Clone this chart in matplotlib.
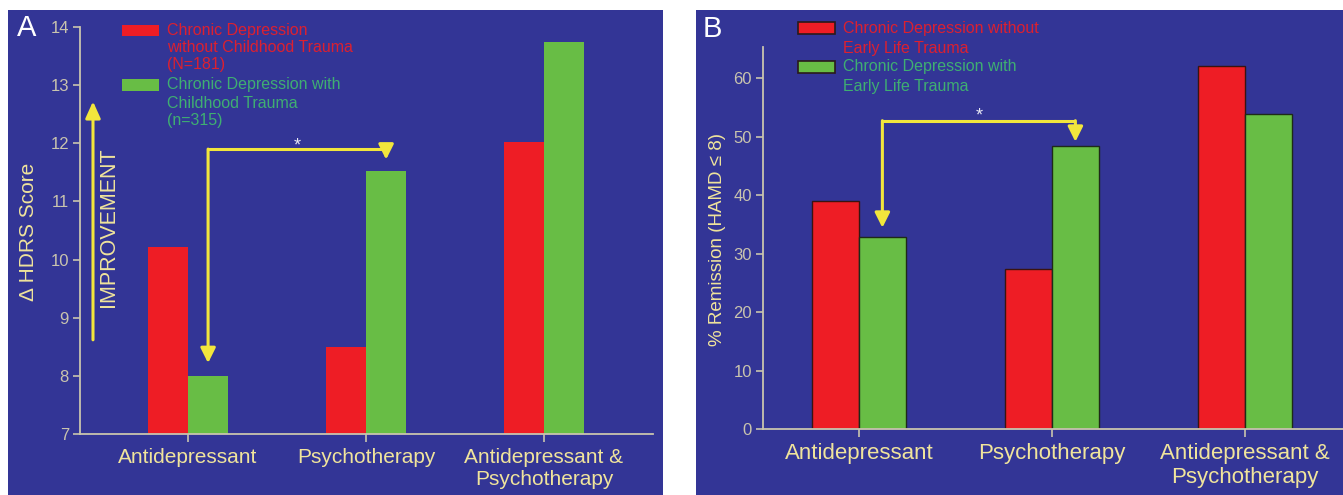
import matplotlib
matplotlib.use("Agg")
import matplotlib.pyplot as plt
from matplotlib.patches import Rectangle

plt.rcParams['font.family'] = ['Liberation Sans', 'DejaVu Sans']

# data
categories = ["Antidepressant", "Psychotherapy", "Antidepressant &\nPsychotherapy"]
hdrs_no_trauma = [10.22, 8.5, 12.03]
hdrs_trauma = [8.0, 11.52, 13.74]
remission_no_trauma = [39.0, 27.4, 62.0]
remission_trauma = [32.9, 48.3, 53.9]
hdrs_ticks = [7, 8, 9, 10, 11, 12, 13, 14]
remission_ticks = [0, 10, 20, 30, 40, 50, 60]

legend_a = [["Chronic Depression", "without Childhood Trauma", "(N=181)"],
            ["Chronic Depression with", "Childhood Trauma", "(n=315)"]]
legend_b = [["Chronic Depression without", "Early Life Trauma"],
            ["Chronic Depression with", "Early Life Trauma"]]

BG = '#333596'
RED = '#ee1d25'
GREEN = '#68bd45'
AXIS = '#c9c4ae'
CAT = '#f0e49c'
YEL = '#f2e63c'
RED_TXT = '#dc2030'
GREEN_TXT = '#3fae72'

W, H = 1343, 495
fig = plt.figure(figsize=(W / 100, H / 100), dpi=100)
fig.patch.set_facecolor('white')


def fx(px):
    return px / W


def fy(py):
    return 1 - py / H


# blue panels
fig.patches.append(Rectangle((fx(8), 0), fx(655), fy(10), transform=fig.transFigure,
                             facecolor=BG, edgecolor='none', zorder=-10))
fig.patches.append(Rectangle((fx(696), 0), fx(647), fy(10), transform=fig.transFigure,
                             facecolor=BG, edgecolor='none', zorder=-10))


def style_axes(ax, cat_size):
    ax.set_facecolor('none')
    for s in ['top', 'right']:
        ax.spines[s].set_visible(False)
    for s in ['left', 'bottom']:
        ax.spines[s].set_color(AXIS)
        ax.spines[s].set_linewidth(1.3)
    ax.tick_params(axis='y', colors=AXIS, labelsize=12, length=5, width=1.2, pad=3)
    ax.tick_params(axis='x', colors=AXIS, length=6, width=1.2, pad=4)
    ax.set_xticks(range(len(categories)))
    ax.set_xticklabels(categories, fontsize=cat_size, color=CAT)


def bracket(ax, x0, x1, y_top, tip0, tip1, star_y):
    kw = dict(arrowstyle='-|>,head_length=0.9,head_width=0.45', color=YEL, lw=2.2,
              shrinkA=0, shrinkB=0)
    ax.plot([x0, x1], [y_top, y_top], color=YEL, lw=2.2, solid_capstyle='butt', clip_on=False)
    ax.annotate('', xy=(x0, tip0), xytext=(x0, y_top), arrowprops=kw, annotation_clip=False)
    ax.annotate('', xy=(x1, tip1), xytext=(x1, y_top), arrowprops=kw, annotation_clip=False)
    ax.text((x0 + x1) / 2, star_y, '*', color='#e8e8f4', fontsize=13,
            ha='center', va='center')


def legend(entries, colors, txt_colors, patch_x, text_x, rows, edge):
    for lines, c, tc, (py0, py1, line_ys) in zip(entries, colors, txt_colors, rows):
        fig.patches.append(Rectangle((fx(patch_x[0]), fy(py1)), fx(patch_x[1] - patch_x[0]),
                                     (py1 - py0) / H, transform=fig.transFigure,
                                     facecolor=c, edgecolor=edge, lw=1.2))
        for line, ly in zip(lines, line_ys):
            fig.text(fx(text_x), fy(ly), line, color=tc, fontsize=11.5,
                     ha='left', va='center')


x = list(range(len(categories)))

# ---- panel A ----
axA = fig.add_axes([fx(80), fy(434), fx(653 - 80), (434 - 27) / H])
wa = 0.225
axA.bar([i - wa / 2 for i in x], hdrs_no_trauma, width=wa, color=RED)
axA.bar([i + wa / 2 for i in x], hdrs_trauma, width=wa, color=GREEN)
axA.set_ylim(7, 14)
axA.set_xlim(-0.607, 2.612)
axA.set_yticks(hdrs_ticks)
style_axes(axA, 15)
bracket(axA, 0 + wa / 2, 1 + wa / 2, 11.9, hdrs_trauma[0] + 0.22, hdrs_trauma[1] + 0.2, 11.96)
axA.annotate('', xy=(-0.534, 12.72), xytext=(-0.534, 8.62),
             arrowprops=dict(arrowstyle='-|>,head_length=1.0,head_width=0.45', color=YEL,
                             lw=2.2, shrinkA=0, shrinkB=0), annotation_clip=False)
axA.text(-0.449, 10.55, 'IMPROVEMENT', rotation=90, color=CAT, fontsize=15.5,
         ha='center', va='center')
fig.text(fx(28), fy(232), 'Δ HDRS Score', rotation=90, color=CAT, fontsize=15,
         ha='center', va='center')
fig.text(fx(17), fy(28), 'A', color='white', fontsize=21, ha='left', va='center')
legend(legend_a, [RED, GREEN], [RED_TXT, GREEN_TXT], (122, 159), 167,
       [(25, 36, [30, 48, 65]), (79, 91, [85, 103, 120])], 'none')

# ---- panel B ----
axB = fig.add_axes([fx(763), fy(429), fx(1343 - 763), (429 - 47) / H])
wb = 0.243
axB.bar([i - wb / 2 for i in x], remission_no_trauma, width=wb, color=RED,
        edgecolor='#3a1410', lw=1.0)
axB.bar([i + wb / 2 for i in x], remission_trauma, width=wb, color=GREEN,
        edgecolor='#1e2a18', lw=1.0)
axB.set_ylim(0, 65.3)
axB.set_xlim(-0.497, 2.508)
axB.set_yticks(remission_ticks)
style_axes(axB, 16)
bracket(axB, 0 + wb / 2, 1 + wb / 2, 52.7, remission_trauma[0] + 1.5, remission_trauma[1] + 0.8, 53.5)
fig.text(fx(717), fy(240), '% Remission (HAMD ≤ 8)', rotation=90, color=CAT, fontsize=13.5,
         ha='center', va='center')
fig.text(fx(703), fy(29), 'B', color='white', fontsize=21, ha='left', va='center')
legend(legend_b, [RED, GREEN], [RED_TXT, GREEN_TXT], (798, 835), 843,
       [(22, 34, [29, 48]), (61, 73, [67, 86])], '#2a1a1a')

fig.savefig('out.png', dpi=100, facecolor='white')
